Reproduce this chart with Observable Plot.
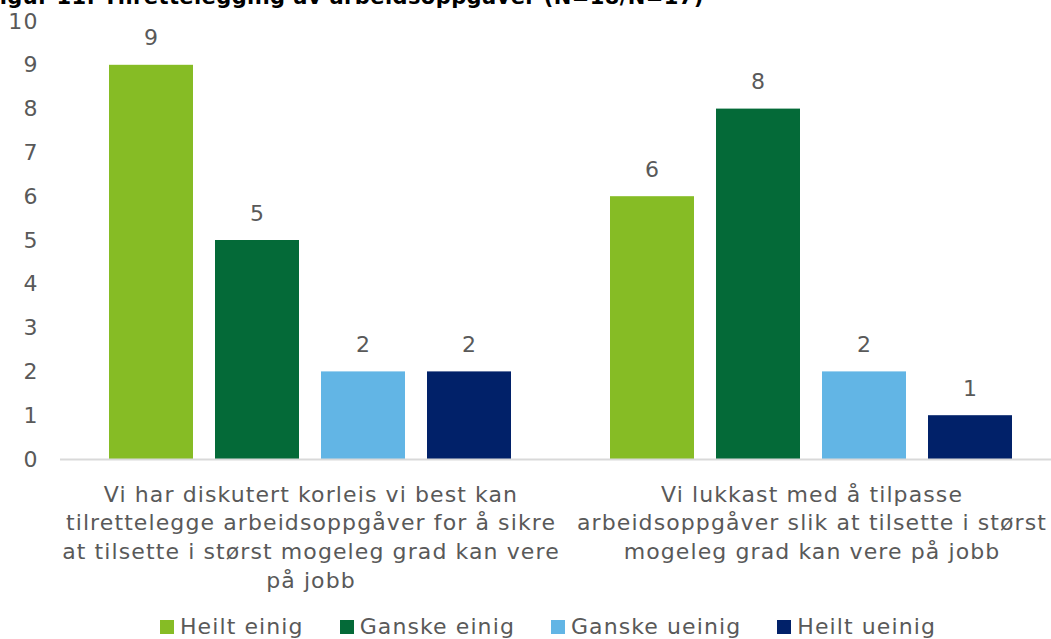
<!DOCTYPE html>
<html>
<head>
<meta charset="utf-8">
<script src="https://cdn.jsdelivr.net/npm/d3@7"></script>
<script src="https://cdn.jsdelivr.net/npm/@observablehq/plot@0.6"></script>
<style>
  html, body { margin: 0; padding: 0; background: #fff; overflow: hidden; width: 1051px; height: 639px; }
  #wrap { position: relative; width: 1051px; height: 639px; overflow: hidden; font-family: "DejaVu Sans", Verdana, sans-serif; }
  #title { position: absolute; left: -15px; top: -13px; font-size: 21px; line-height: 21px; letter-spacing: 0.4px; font-weight: bold; color: #000; white-space: nowrap; z-index: 2; }
  #chart { position: absolute; left: 0; top: 0; width: 1062px; }
  #legend { position: absolute; left: 0; top: 616px; width: 1051px; box-sizing: border-box; padding-left: 45px; display: flex; justify-content: center; font-size: 22px; line-height: 22px; letter-spacing: 1.1px; color: #595959; }
  .item { display: flex; align-items: center; margin: 0 18px; }
  .sw { width: 14px; height: 14px; margin-right: 6px; }
</style>
</head>
<body>
<div id="wrap">
  <div id="title">Figur 11: Tilrettelegging av arbeidsoppgåver (N=18/N=17)</div>
  <div id="chart"></div>
  <div id="legend"></div>
</div>
<script>
const categories = [
  "Vi har diskutert korleis vi best kan\ntilrettelegge arbeidsoppgåver for å sikre\nat tilsette i størst mogeleg grad kan vere\npå jobb",
  "Vi lukkast med å tilpasse\narbeidsoppgåver slik at tilsette i størst\nmogeleg grad kan vere på jobb"
];
const series = ["Heilt einig", "Ganske einig", "Ganske ueinig", "Heilt ueinig"];
const colors = ["#86BC25", "#046A38", "#62B5E5", "#012169"];
const valuesCat1 = [9, 5, 2, 2];
const valuesCat2 = [6, 8, 2, 1];
const yTicks = [0, 1, 2, 3, 4, 5, 6, 7, 8, 9, 10];

const allValues = [valuesCat1, valuesCat2];
const data = [];
categories.forEach((c, i) => series.forEach((s, j) => data.push({category: c, series: s, value: allValues[i][j]})));

const chart = Plot.plot({
  width: 1062,
  height: 600,
  marginTop: 21,
  marginBottom: 141,
  marginLeft: 59,
  marginRight: 0,
  style: {fontFamily: "'DejaVu Sans', Verdana, sans-serif", fontSize: "22px", letterSpacing: "1.1px", color: "#595959", overflow: "visible", background: "transparent", maxWidth: "none"},
  fx: {domain: categories, padding: 0, axis: null},
  x: {domain: series, paddingInner: 0.2056, paddingOuter: 0.446, axis: null},
  y: {domain: [0, 10], axis: null},
  color: {domain: series, range: colors},
  marks: [
    Plot.axisY({ticks: yTicks, tickSize: 0, tickPadding: 22, label: null, fontSize: 22, fill: "#595959"}),
    Plot.barY(data, {fx: "category", x: "series", y: "value", fill: "series"}),
    Plot.ruleY([0], {stroke: "#d9d9d9", strokeWidth: 2}),
    Plot.text(data, {fx: "category", x: "series", y: "value", text: d => String(d.value), dy: -27, lineAnchor: "middle", fontSize: 22, fill: "#595959"}),
    Plot.text(categories, {fx: d => d, text: d => d, frameAnchor: "bottom", lineAnchor: "top", dy: 22, lineHeight: 1.3, fontSize: 22, fill: "#595959"})
  ]
});
document.getElementById("chart").appendChild(chart);

const legend = document.getElementById("legend");
series.forEach((s, i) => {
  const item = document.createElement("div");
  item.className = "item";
  const sw = document.createElement("div");
  sw.className = "sw";
  sw.style.background = colors[i];
  const t = document.createElement("span");
  t.textContent = s;
  item.appendChild(sw);
  item.appendChild(t);
  legend.appendChild(item);
});
</script>
</body>
</html>
